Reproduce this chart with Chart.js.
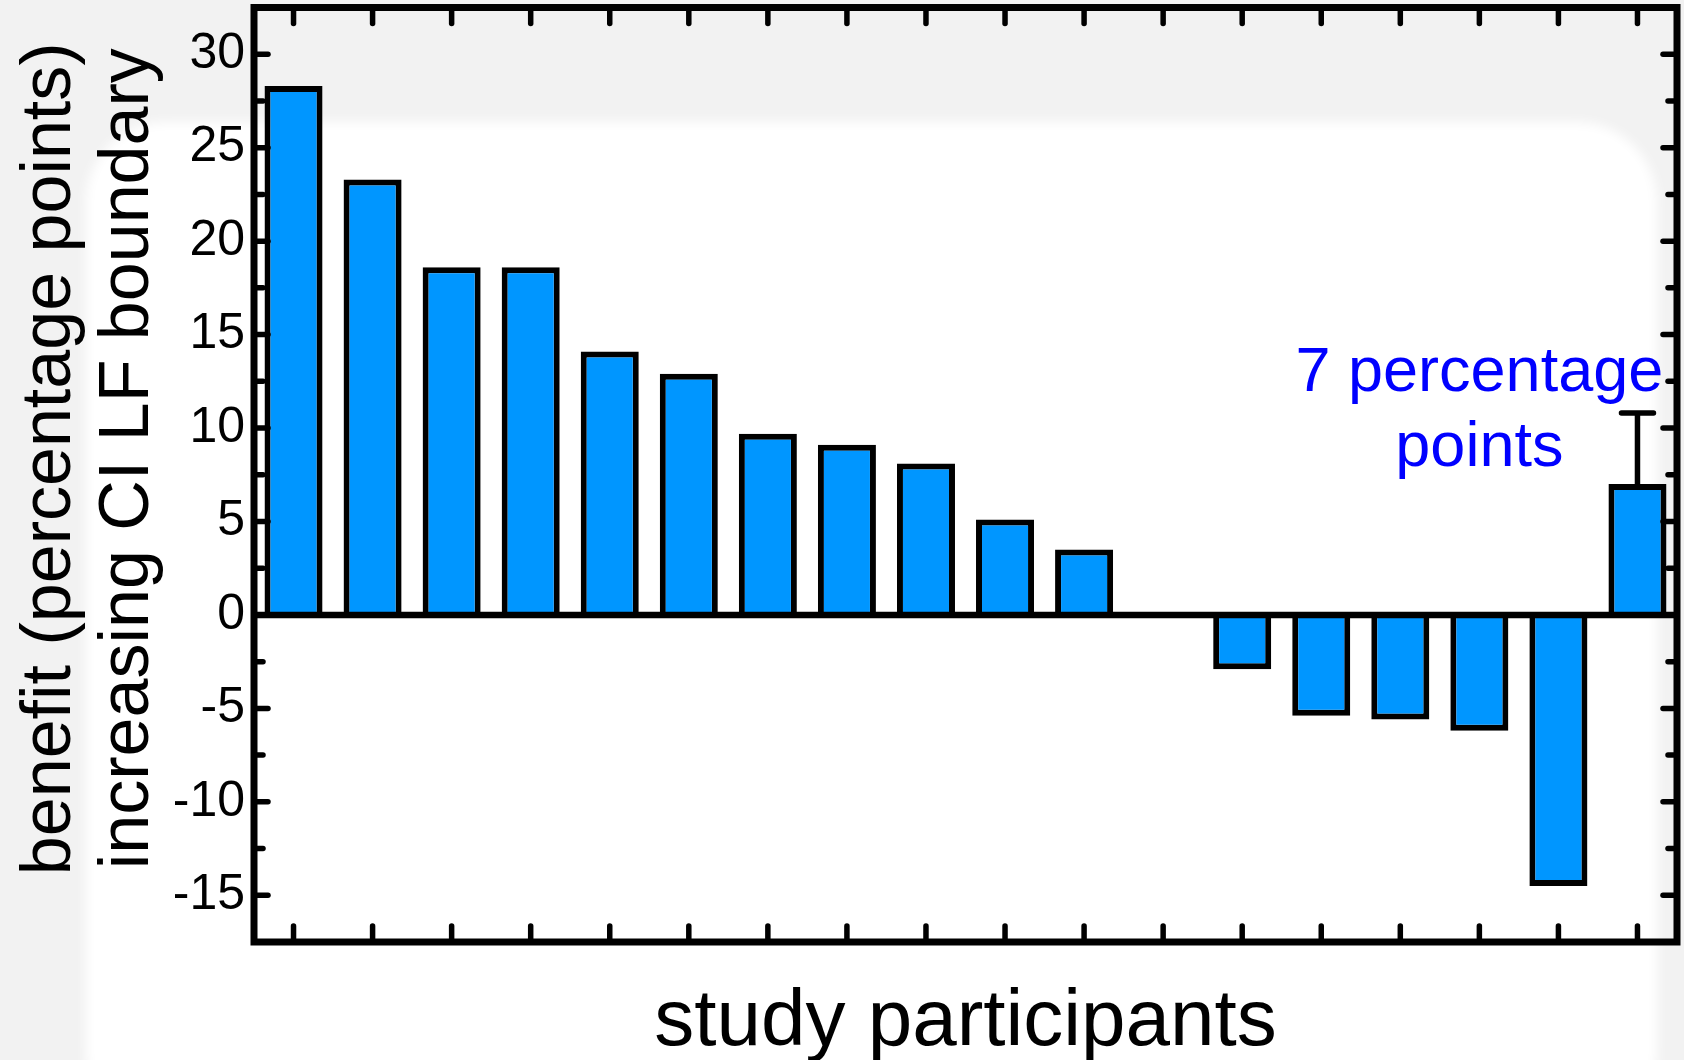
<!DOCTYPE html>
<html>
<head>
<meta charset="utf-8">
<title>Benefit per study participant</title>
<script src="https://cdn.jsdelivr.net/npm/chart.js@4/dist/chart.umd.min.js"></script>
<style>
  html, body { margin: 0; padding: 0; overflow: hidden; background: #f2f2f2; }
  #wrap { position: relative; width: 1684px; height: 1060px; }
  /* soft white sheet behind the plot */
  #sheet {
    position: absolute; left: 86px; top: 122px; width: 1571px; height: 1010px;
    background: #ffffff; border-radius: 80px; filter: blur(6px);
  }
  #chart { position: absolute; left: 0; top: 0; }
</style>
</head>
<body>
<div id="wrap">
  <div id="sheet"></div>
  <canvas id="chart" width="1684" height="1060"></canvas>
</div>
<script>
// Participants sorted by benefit; the last bar is the group mean.
const participants = ['P1', 'P2', 'P3', 'P4', 'P5', 'P6', 'P7', 'P8', 'P9',
                      'P10', 'P11', 'P12', 'P13', 'P14', 'P15', 'P16', 'P17', 'mean'];
const benefit = [28.3, 23.3, 18.6, 18.6, 14.1, 12.9, 9.7, 9.1, 8.1,
                 5.1, 3.5, 0, -2.9, -5.4, -5.6, -6.2, -14.5, 7];
// Upper error bar (only the mean carries one)
const errorUpper = [null, null, null, null, null, null, null, null, null,
                    null, null, null, null, null, null, null, null, 3.8];

const yMajorTicks = [-15, -10, -5, 0, 5, 10, 15, 20, 25, 30];
const yMinorTicks = [-12.5, -7.5, -2.5, 2.5, 7.5, 12.5, 17.5, 22.5, 27.5];

const yTitleLines = ['benefit (percentage points)', 'increasing CI LF boundary'];
const xTitle = 'study participants';
const noteLines = ['7 percentage', 'points'];
const noteAnchor = { index: 15, value: 12 };

const FONT = '"Liberation Sans", Arial, Helvetica, sans-serif';
Chart.defaults.font.family = FONT;
Chart.defaults.color = '#000';

function seg(ctx, x1, y1, x2, y2) {
  ctx.beginPath();
  ctx.moveTo(x1, y1);
  ctx.lineTo(x2, y2);
  ctx.stroke();
}

// Frame, inward tick marks, zero line, error bar, y title and the blue note
const frameAndMarks = {
  id: 'frameAndMarks',
  afterDatasetsDraw(chart) {
    const { ctx, chartArea: a, scales: { x, y } } = chart;
    ctx.save();
    ctx.strokeStyle = '#000';

    // zero line across the plot
    const y0 = y.getPixelForValue(0);
    ctx.lineWidth = 6.5;
    ctx.lineCap = 'butt';
    seg(ctx, a.left, y0, a.right, y0);

    // error bars (upper half)
    ctx.lineWidth = 5.5;
    errorUpper.forEach((e, i) => {
      if (e == null) return;
      const px = x.getPixelForValue(i);
      const pBase = y.getPixelForValue(benefit[i]);
      const pTop = y.getPixelForValue(benefit[i] + e);
      seg(ctx, px, pBase, px, pTop);
      ctx.lineCap = 'round';
      seg(ctx, px - 16, pTop, px + 16, pTop);
      ctx.lineCap = 'butt';
    });

    // tick marks pointing into the plot
    ctx.lineCap = 'round';
    ctx.lineWidth = 5.5;
    participants.forEach((_, i) => {
      const px = x.getPixelForValue(i);
      seg(ctx, px, a.bottom, px, a.bottom - 16);
      seg(ctx, px, a.top, px, a.top + 16);
    });
    yMajorTicks.forEach(v => {
      const py = y.getPixelForValue(v);
      seg(ctx, a.left, py, a.left + 14, py);
      seg(ctx, a.right, py, a.right - 14, py);
    });
    yMinorTicks.forEach(v => {
      const py = y.getPixelForValue(v);
      seg(ctx, a.left, py, a.left + 9, py);
      seg(ctx, a.right, py, a.right - 9, py);
    });

    // frame
    ctx.lineCap = 'butt';
    ctx.lineJoin = 'miter';
    ctx.lineWidth = 7;
    ctx.strokeRect(a.left, a.top, a.right - a.left, a.bottom - a.top);
    ctx.restore();
  },
  afterDraw(chart) {
    const { ctx, chartArea: a, scales: { x, y } } = chart;

    // two-line y axis title, rotated
    ctx.save();
    ctx.fillStyle = '#000';
    ctx.font = '70px ' + FONT;
    ctx.textAlign = 'center';
    ctx.textBaseline = 'alphabetic';
    const midY = (a.top + a.bottom) / 2 - 16;
    const baselines = [70, 148];
    yTitleLines.forEach((t, k) => {
      ctx.save();
      ctx.translate(baselines[k], midY);
      ctx.rotate(-Math.PI / 2);
      ctx.fillText(t, 0, 0);
      ctx.restore();
    });
    ctx.restore();

    // blue note over the mean bar
    ctx.save();
    ctx.fillStyle = '#0000ff';
    ctx.font = '63px ' + FONT;
    ctx.textAlign = 'center';
    ctx.textBaseline = 'alphabetic';
    const px = x.getPixelForValue(noteAnchor.index);
    const py = y.getPixelForValue(noteAnchor.value);
    noteLines.forEach((t, k) => ctx.fillText(t, px, py + k * 75));
    ctx.restore();
  }
};

new Chart(document.getElementById('chart'), {
  type: 'bar',
  data: {
    labels: participants,
    datasets: [{
      data: benefit,
      backgroundColor: '#0096ff',
      borderColor: '#000',
      borderWidth: 6,
      barPercentage: 0.734,
      categoryPercentage: 1
    }]
  },
  options: {
    responsive: false,
    devicePixelRatio: 1,
    animation: false,
    events: [],
    layout: { padding: { top: 7.5, right: 7, bottom: 0, left: 0 } },
    plugins: { legend: { display: false }, tooltip: { enabled: false } },
    scales: {
      x: {
        grid: { display: false, drawTicks: false },
        border: { display: false },
        ticks: { display: false },
        title: {
          display: true, text: xTitle, color: '#000',
          font: { size: 80, lineHeight: 0.8 },
          padding: { top: 0, bottom: 5 }
        },
        afterFit(s) { s.height = 118; }
      },
      y: {
        min: -17.5,
        max: 32.5,
        afterBuildTicks(s) { s.ticks = yMajorTicks.map(v => ({ value: v })); },
        grid: { display: false, drawTicks: false },
        border: { display: false },
        ticks: { color: '#000', font: { size: 50 }, padding: 9 },
        title: { display: false },
        afterFit(s) { s.width = 254; s.paddingTop = 0; s.paddingBottom = 0; }
      }
    }
  },
  plugins: [frameAndMarks]
});
</script>
</body>
</html>
